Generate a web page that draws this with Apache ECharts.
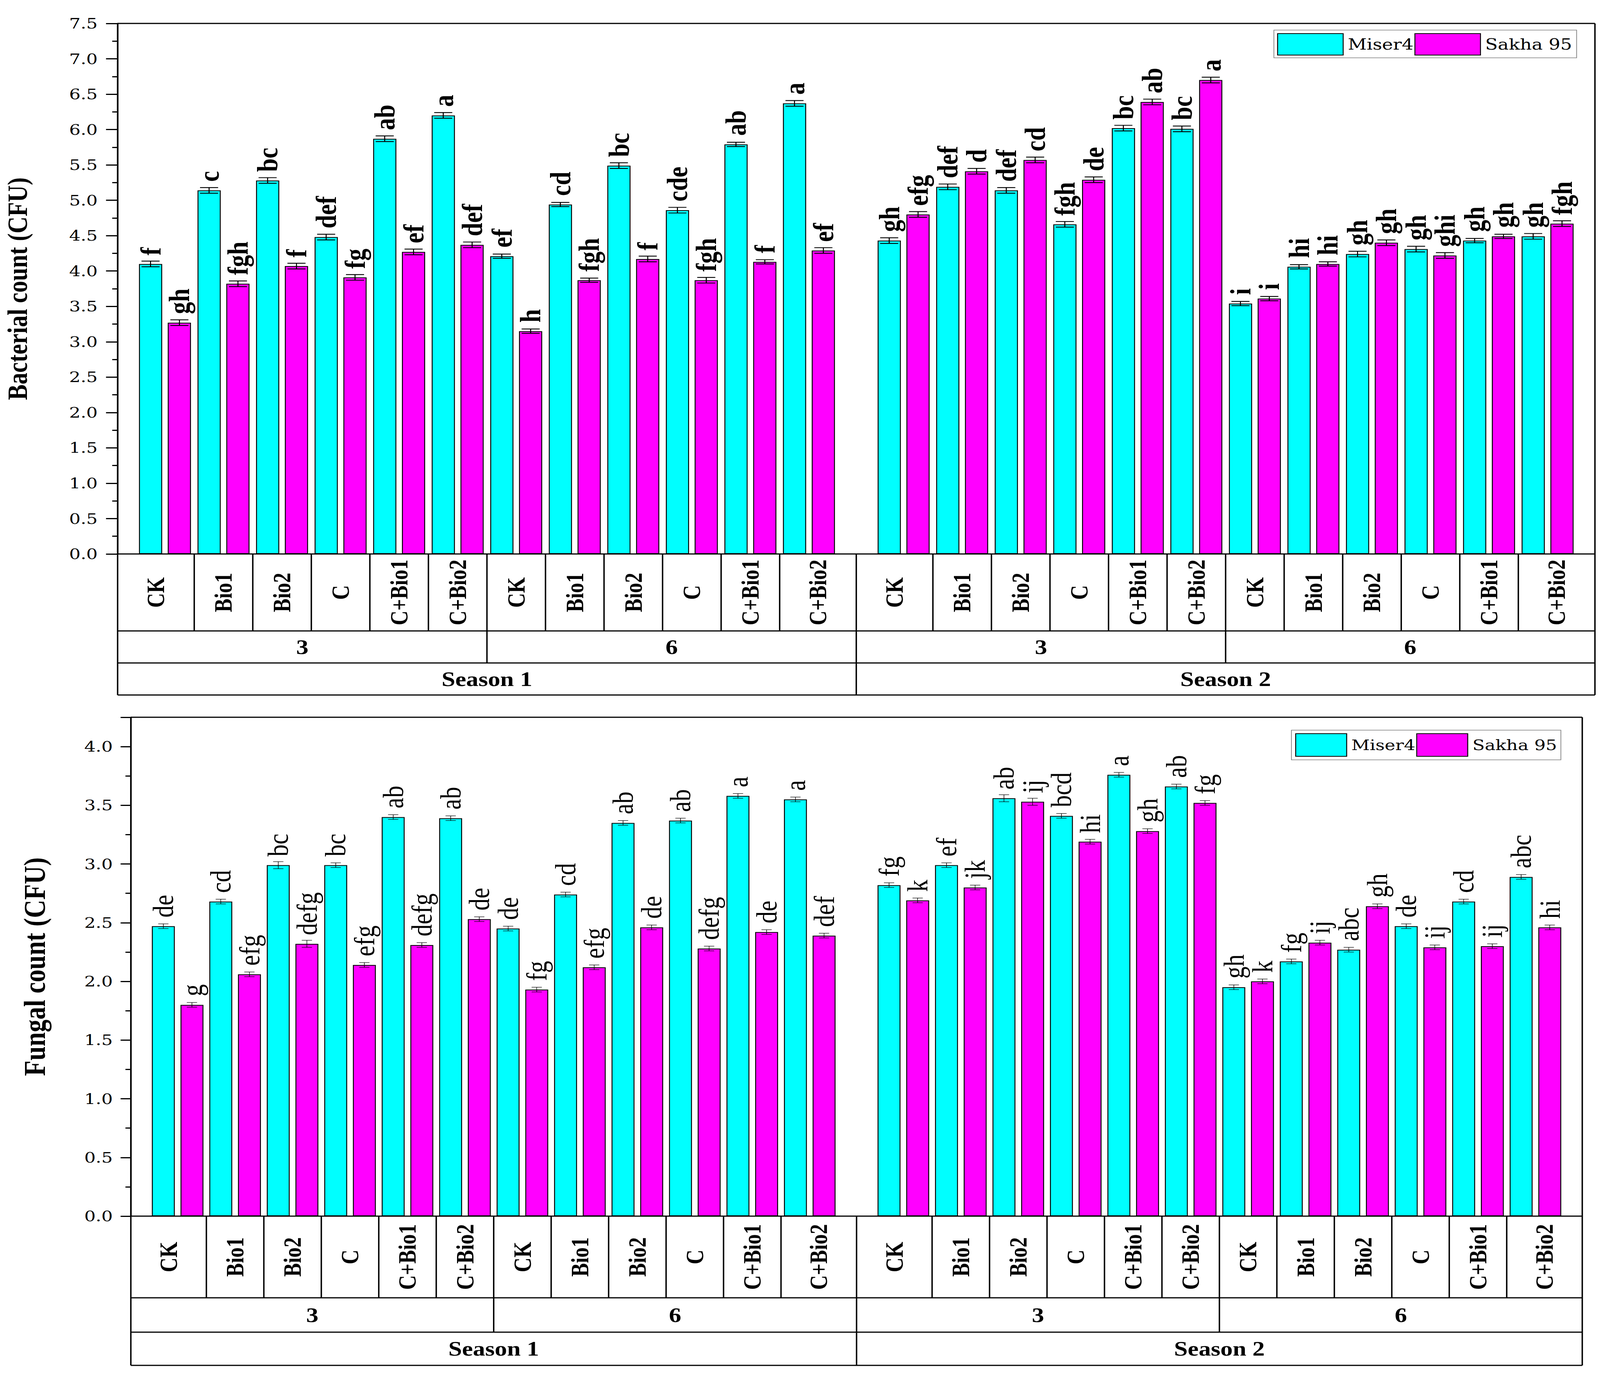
<!DOCTYPE html>
<html>
<head>
<meta charset="utf-8">
<script src="https://cdn.jsdelivr.net/npm/echarts@6.0.0/dist/echarts.min.js"></script>
<style>
  html, body { margin: 0; padding: 0; background: #fff; overflow: hidden; width: 100%; height: 100%; }
  #chart { width: 100vw; height: 100vh; overflow: hidden; }
</style>
</head>
<body>
<div id="chart"></div>
<script>
(function() {
  // the source figure is stretched sideways: draw it narrow, then widen the svg
  var S = 1.75;
  var PAGE_W = 5930, PAGE_H = 3535;
  var W0 = Math.round(PAGE_W / S);
  function X(px) { return px / S; }

  var CYAN = '#00FFFF';
  var MAGENTA = '#FF00FF';
  var serif = 'Liberation Serif, Times New Roman, serif';
  var tickFont = 'DejaVu Serif, serif';

  var treatments = ['CK', 'Bio1', 'Bio2', 'C', 'C+Bio1', 'C+Bio2'];
  var times = ['3', '6'];
  var seasons = ['Season 1', 'Season 2'];
  var varieties = ['Miser4', 'Sakha 95'];

  // --- Bacterial count: 3 (six treatments) then 6 (six treatments) ---
  var bactMiserS1 = [4.10, 5.14, 5.28, 4.48, 5.87, 6.20, 4.21, 4.94, 5.49, 4.86, 5.79, 6.37];
  var bactSakhaS1 = [3.27, 3.82, 4.07, 3.91, 4.27, 4.37, 3.15, 3.87, 4.17, 3.87, 4.13, 4.29];
  var bactMiserS2 = [4.43, 5.19, 5.14, 4.66, 6.02, 6.01, 3.54, 4.06, 4.24, 4.31, 4.43, 4.49];
  var bactSakhaS2 = [4.80, 5.41, 5.57, 5.29, 6.39, 6.70, 3.61, 4.10, 4.40, 4.22, 4.49, 4.67];
  var bactErr = [0.04, 0.04, 0.04, 0.04, 0.04, 0.04, 0.03, 0.03, 0.04, 0.04, 0.03, 0.04];

  var bactLetMiserS1 = ['f', 'c', 'bc', 'def', 'ab', 'a', 'ef', 'cd', 'bc', 'cde', 'ab', 'a'];
  var bactLetSakhaS1 = ['gh', 'fgh', 'f', 'fg', 'ef', 'def', 'h', 'fgh', 'f', 'fgh', 'f', 'ef'];
  var bactLetMiserS2 = ['gh', 'def', 'def', 'fgh', 'bc', 'bc', 'i', 'hi', 'gh', 'gh', 'gh', 'gh'];
  var bactLetSakhaS2 = ['efg', 'd', 'cd', 'de', 'ab', 'a', 'i', 'hi', 'gh', 'ghi', 'gh', 'fgh'];

  // --- Fungal count ---
  var fungMiserS1 = [2.47, 2.68, 2.99, 2.99, 3.40, 3.39, 2.45, 2.74, 3.35, 3.37, 3.58, 3.55];
  var fungSakhaS1 = [1.80, 2.06, 2.32, 2.14, 2.31, 2.53, 1.93, 2.12, 2.46, 2.28, 2.42, 2.39];
  var fungMiserS2 = [2.82, 2.99, 3.56, 3.41, 3.76, 3.66, 1.95, 2.17, 2.27, 2.47, 2.68, 2.89];
  var fungSakhaS2 = [2.69, 2.80, 3.53, 3.19, 3.28, 3.52, 2.00, 2.33, 2.64, 2.29, 2.30, 2.46];
  var fungErr = [0.02, 0.02, 0.03, 0.02, 0.02, 0.02, 0.02, 0.02, 0.02, 0.02, 0.02, 0.02];

  var fungLetMiserS1 = ['de', 'cd', 'bc', 'bc', 'ab', 'ab', 'de', 'cd', 'ab', 'ab', 'a', 'a'];
  var fungLetSakhaS1 = ['g', 'efg', 'defg', 'efg', 'defg', 'de', 'fg', 'efg', 'de', 'defg', 'de', 'def'];
  var fungLetMiserS2 = ['fg', 'ef', 'ab', 'bcd', 'a', 'ab', 'gh', 'fg', 'abc', 'de', 'cd', 'abc'];
  var fungLetSakhaS2 = ['k', 'jk', 'ij', 'hi', 'gh', 'fg', 'k', 'ij', 'gh', 'ij', 'ij', 'hi'];

  var cats = [];
  times.forEach(function(t) {
    treatments.forEach(function(tr) { cats.push(t + '|' + tr); });
  });

  // layout in pixels of the reference picture
  var panels = [
    {
      left: 436, right: 5912, top: 60, rows: [1418, 1615, 1697, 1779], pad: 67,
      barW: 86, gap: 21, ymax: 7.5, name: 'Bacterial count (CFU)', nameSize: 60, nameGap: 182,
      labelMargin: 74, tickLen: 43, letterWeight: 'bold', capW: 67, errLW: 2.2,
      miser: [bactMiserS1, bactMiserS2], sakha: [bactSakhaS1, bactSakhaS2],
      letM: [bactLetMiserS1, bactLetMiserS2], letS: [bactLetSakhaS1, bactLetSakhaS2], err: bactErr,
      legend: { left: 4722, top: 77, iw: 243, ih: 55, pad: [8, 17, 6, 12], font: 39 }
    },
    {
      left: 485, right: 5865, top: 1836, rows: [3113, 3322, 3410, 3495], pad: 67,
      barW: 85, gap: 21, ymax: 4.25, name: 'Fungal count (CFU)', nameSize: 65, nameGap: 171,
      labelMargin: 67, tickLen: 38, letterWeight: 'normal', capW: 38, errLW: 1.2,
      miser: [fungMiserS1, fungMiserS2], sakha: [fungSakhaS1, fungSakhaS2],
      letM: [fungLetMiserS1, fungLetMiserS2], letS: [fungLetSakhaS1, fungLetSakhaS2], err: fungErr,
      legend: { left: 4787, top: 1869, iw: 189, ih: 58, pad: [8, 14, 8, 14], font: 38 }
    }
  ];

  function errorBars(offset, capHalf, lw) {
    return function(params, api) {
      var i = api.value(0), v = api.value(1), e = api.value(2);
      var x = api.coord([i, v])[0] + offset;
      var yHi = api.coord([i, v + e])[1];
      var yLo = api.coord([i, v - e])[1];
      var st = { stroke: '#000', lineWidth: lw };
      return {
        type: 'group',
        children: [
          { type: 'line', shape: { x1: x, y1: yHi, x2: x, y2: yLo }, style: st },
          { type: 'line', shape: { x1: x - capHalf, y1: yHi, x2: x + capHalf, y2: yHi }, style: st },
          { type: 'line', shape: { x1: x - capHalf, y1: yLo, x2: x + capHalf, y2: yLo }, style: st }
        ]
      };
    };
  }

  function tableGraphics(p) {
    var g = [];
    var r = p.rows;
    var sw = (p.right - p.left) / 2;
    function line(x1, y1, x2, y2) {
      g.push({ type: 'line', silent: true, shape: { x1: X(x1), y1: y1, x2: X(x2), y2: y2 },
        style: { stroke: '#000', lineWidth: 3 } });
    }
    function text(s, x, y) {
      g.push({ type: 'text', silent: true, x: X(x), y: y,
        style: { text: s, fill: '#000', fontFamily: serif, fontWeight: 'bold', fontSize: 52,
          align: 'center', verticalAlign: 'middle' } });
    }
    line(p.left, p.top, p.right, p.top);
    line(p.left, p.top, p.left, r[3]);
    line(p.right, p.top, p.right, r[3]);
    r.forEach(function(y) { line(p.left, y, p.right, y); });
    line(p.left + sw, r[0], p.left + sw, r[3]);
    for (var k = 0; k < 2; k++) {
      var sl = p.left + k * sw;
      var gl = sl + p.pad;
      var cw = (sw - 2 * p.pad) / cats.length;
      for (var j = 1; j < cats.length; j++) {
        var x = gl + j * cw;
        line(x, r[0], x, j === treatments.length ? r[2] : r[1]);
      }
      var mid = gl + treatments.length * cw;
      text(times[0], (sl + mid) / 2, (r[1] + r[2]) / 2);
      text(times[1], (mid + sl + sw) / 2, (r[1] + r[2]) / 2);
      text(seasons[k], sl + sw / 2, (r[2] + r[3]) / 2);
    }
    return g;
  }

  var grids = [], xAxes = [], yAxes = [], series = [], legends = [], graphics = [];

  panels.forEach(function(p, pi) {
    var sw = (p.right - p.left) / 2;
    var base = p.rows[0];
    var rowH = p.rows[1] - p.rows[0];
    var offset = X((p.barW + p.gap) / 2);
    var labelStyle = { fontFamily: serif, fontWeight: 'bold', fontSize: 52, color: '#000' };

    for (var k = 0; k < 2; k++) {
      var gi = pi * 2 + k;
      var gl = p.left + k * sw + p.pad;
      grids.push({ left: X(gl), width: X(sw - 2 * p.pad), top: p.top, height: base - p.top });

      xAxes.push({
        type: 'category', gridIndex: gi, data: cats,
        axisLine: { show: false }, axisTick: { show: false },
        axisLabel: {
          interval: 0, rotate: 90, align: 'center', verticalAlign: 'middle', margin: rowH / 2,
          formatter: function(v, i) {
            var t = v.split('|')[1];
            if (i === 0) return '{f|' + t + '}';
            if (i === cats.length - 1) return '{l|' + t + '}';
            return '{m|' + t + '}';
          },
          rich: {
            f: Object.assign({ padding: [0, 0, X(p.pad), 0] }, labelStyle),
            l: Object.assign({ padding: [X(p.pad), 0, 0, 0] }, labelStyle),
            m: labelStyle
          }
        }
      });

      yAxes.push({
        type: 'value', gridIndex: gi, min: 0, max: p.ymax, interval: 0.5,
        show: k === 0, offset: X(p.pad),
        name: p.name, nameLocation: 'middle', nameRotate: 90, nameGap: p.nameGap,
        nameTextStyle: { fontFamily: serif, fontWeight: 'bold', fontSize: p.nameSize,
          lineHeight: p.nameSize, color: '#000' },
        axisLine: { show: true, lineStyle: { color: '#000', width: 3 } },
        axisTick: { show: true, length: X(p.tickLen), lineStyle: { color: '#000', width: 3 } },
        minorTick: { show: true, splitNumber: 2, length: X(20), lineStyle: { color: '#000', width: 3 } },
        splitLine: { show: false },
        axisLabel: {
          margin: X(p.labelMargin), showMaxLabel: p.ymax % 0.5 === 0,
          fontFamily: tickFont, fontSize: 38, color: '#000',
          formatter: function(v) { return v.toFixed(1); }
        }
      });

      [
        { name: varieties[0], data: p.miser[k], letters: p.letM[k], color: CYAN, side: -1 },
        { name: varieties[1], data: p.sakha[k], letters: p.letS[k], color: MAGENTA, side: 1 }
      ].forEach(function(s) {
        var letters = s.letters;
        series.push({
          name: s.name, type: 'bar', xAxisIndex: gi, yAxisIndex: gi,
          data: s.data, barWidth: X(p.barW), barGap: Math.round(p.gap / p.barW * 100) + '%',
          itemStyle: { color: s.color, borderColor: '#000', borderWidth: 2 },
          label: {
            show: true, position: 'top', rotate: 90, align: 'left', verticalAlign: 'middle',
            distance: 22, fontFamily: serif, fontWeight: p.letterWeight, fontSize: 62, color: '#000',
            formatter: function(prm) { return letters[prm.dataIndex]; }
          },
          z: 2
        });
        series.push({
          name: s.name + ' error', type: 'custom', xAxisIndex: gi, yAxisIndex: gi,
          renderItem: errorBars(s.side * offset, X(p.capW) / 2, p.errLW),
          data: s.data.map(function(v, i) { return [i, v, p.err[i]]; }),
          encode: { x: 0, y: 1 }, z: 4, silent: true
        });
      });
    }

    var L = p.legend;
    legends.push({
      data: varieties, left: X(L.left), top: L.top, orient: 'horizontal',
      itemWidth: X(L.iw), itemHeight: L.ih, itemGap: 2,
      padding: [L.pad[0], X(L.pad[1]), L.pad[2], X(L.pad[3])],
      borderColor: '#808080', borderWidth: 1.5, icon: 'rect', selectedMode: false,
      itemStyle: { borderColor: '#000', borderWidth: 2 },
      textStyle: { fontFamily: tickFont, fontSize: L.font, color: '#000', padding: [0, 0, 0, 5] }
    });

    graphics = graphics.concat(tableGraphics(p));
  });

  var el = document.getElementById('chart');
  var chart = echarts.init(el, null, { renderer: 'svg', width: W0, height: PAGE_H });
  chart.setOption({
    animation: false,
    backgroundColor: '#fff',
    grid: grids,
    xAxis: xAxes,
    yAxis: yAxes,
    legend: legends,
    series: series,
    graphic: graphics
  });

  // stretch the drawing over whatever the window really is, without a css transform
  var vw = el.clientWidth || window.innerWidth;
  var vh = el.clientHeight || window.innerHeight;
  var svg = el.querySelector('svg');
  svg.setAttribute('viewBox', '0 0 ' + W0 + ' ' + PAGE_H);
  svg.setAttribute('preserveAspectRatio', 'none');
  svg.style.width = vw + 'px';
  svg.style.height = vh + 'px';
  var par = svg.parentNode;
  while (par && par !== el) {
    par.style.width = vw + 'px';
    par.style.height = vh + 'px';
    par.style.overflow = 'visible';
    par = par.parentNode;
  }
})();
</script>
</body>
</html>
